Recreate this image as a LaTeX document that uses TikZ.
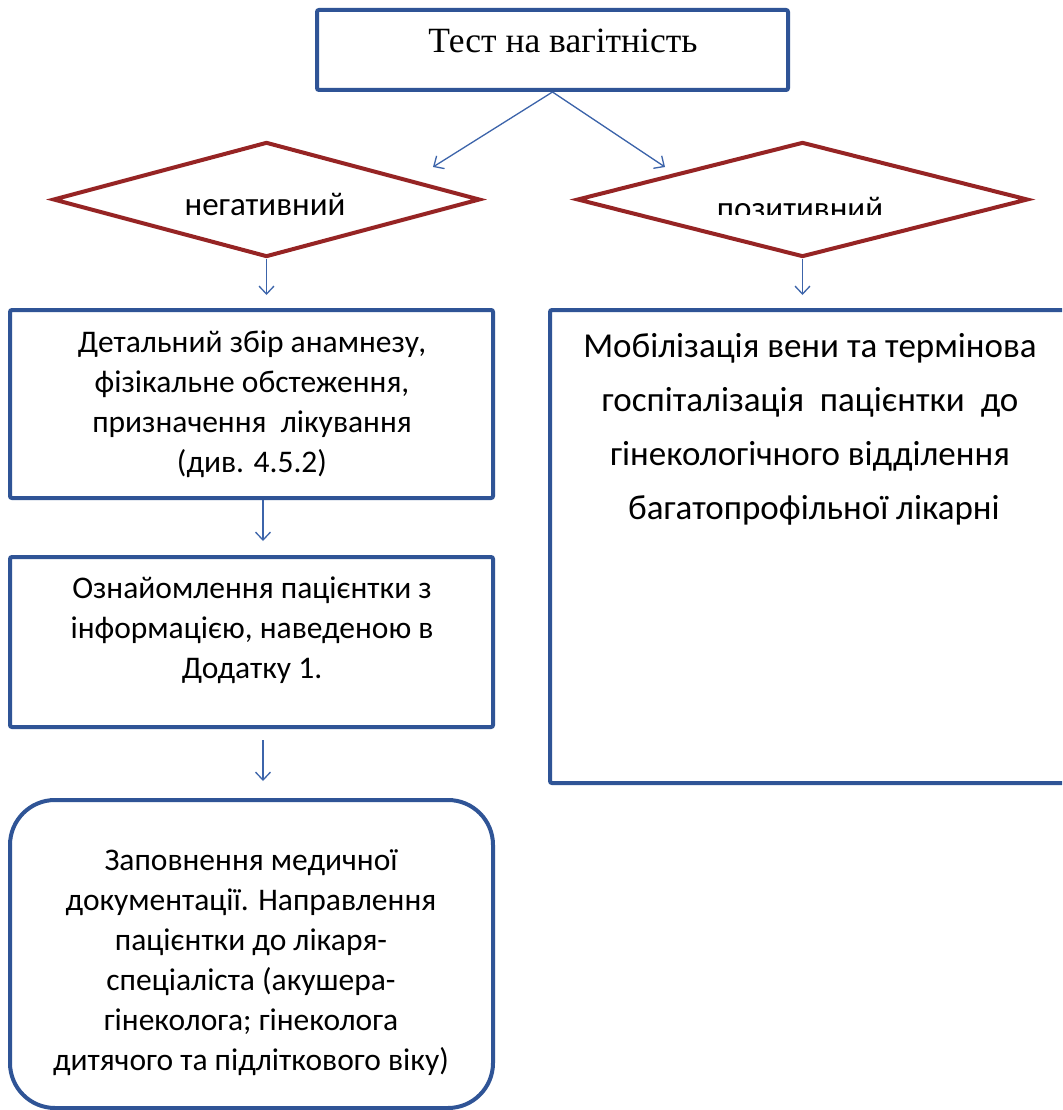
\documentclass[tikz,border=0pt]{standalone}
\usepackage{fontspec}
\setmainfont{Carlito}
\newfontfamily\tnr{Liberation Serif}
\usetikzlibrary{arrows.meta,shapes.geometric}
\definecolor{boxblue}{RGB}{47,84,150}
\definecolor{arrblue}{RGB}{60,100,170}
\definecolor{dred}{RGB}{150,36,36}
\begin{document}
\begin{tikzpicture}[x=1pt,y=-1pt,
  box/.style={draw=boxblue, line width=4pt, rounded corners=2pt, inner sep=0pt},
  dia/.style={diamond, draw=dred, line width=4pt, inner sep=0pt},
  arr/.style={draw=arrblue, line width=1.3pt, -{Straight Barb[length=8pt,width=15pt,line width=1.3pt]}},
  txt/.style={inner sep=0pt, anchor=north, align=center, font=\fontsize{31.5}{40}\selectfont},
  lbl/.style={inner sep=0pt, anchor=base, font=\fontsize{33}{40}\selectfont},
]
\useasboundingbox (0,0) rectangle (1062,1110);
\clip (0,0) rectangle (1062,1110);
\fill[white] (0,0) rectangle (1062,1110);

% top box
\node[box, minimum width=471pt, minimum height=80pt] (top) at (552.5,50) {};
\node[inner sep=0pt, anchor=base, font=\tnr\fontsize{35.5}{40}\selectfont] (toptxt) at (563,53) {Тест на вагітність};

% diamonds
\node[dia, minimum width=427pt, minimum height=115pt] (neg) at (266.5,199.5) {};
\node[lbl] (negt) at (265,215) {негативний};
\node[dia, minimum width=451pt, minimum height=115pt] (pos) at (802.5,199.5) {};
\begin{scope}
  \clip (560,150) rectangle (1040,214);
  \node[lbl] (post) at (800,219) {позитивний};
\end{scope}

% left column boxes
\node[box, minimum width=483pt, minimum height=188pt] (b1) at (251.5,404) {};
\node[txt] (b1t) at (252,324) {\strut Детальний збір анамнезу,\\ \strut фізікальне\ обстеження,\\ \strut призначення\ \ лікування\\ \strut (див. 4.5.2)};
\node[box, minimum width=483pt, minimum height=170pt] (b2) at (251.5,642) {};
\node[txt] (b2t) at (252,570) {\strut Ознайомлення пацієнтки з\\ \strut інформацією, наведеною в\\ \strut Додатку 1.};
\node[box, rounded corners=45pt, minimum width=483pt, minimum height=308pt] (b3) at (251.5,954) {};
\node[txt] (b3t) at (251,842) {\strut Заповнення медичної\\ \strut документації. Направлення\\ \strut пацієнтки до лікаря-\\ \strut спеціаліста (акушера-\\ \strut гінеколога; гінеколога\\ \strut дитячого та підліткового віку)};

% right box
\node[box, minimum width=560pt, minimum height=473pt] (r1) at (830,546.5) {};
\node[txt, font=\fontsize{35}{54}\selectfont] (r1t) at (810,319) {\strut Мобілізація\ вени\ та термінова\\ \strut госпіталізація\ \ пацієнтки\ \ до\\ \strut гінекологічного\ відділення\\ \strut \ багатопрофільної\ лікарні};

% connectors
\coordinate (tl) at (433,167);
\coordinate (tr) at (665,167);
\draw[arr] (top.south) -- (tl);
\draw[arr] (top.south) -- (tr);
\draw[arr, shorten >=13pt] (neg.south) -- (neg.south |- b1.north);
\draw[arr, shorten >=13pt] (pos.south) -- (pos.south |- r1.north);
\draw[arr, shorten >=14pt] ([xshift=11.5pt]b1.south) -- ([xshift=11.5pt]b2.north);
\draw[arr, shorten <=11pt, shorten >=17pt] ([xshift=11.5pt]b2.south) -- ([xshift=11.5pt]b3.north);
\end{tikzpicture}
\end{document}
